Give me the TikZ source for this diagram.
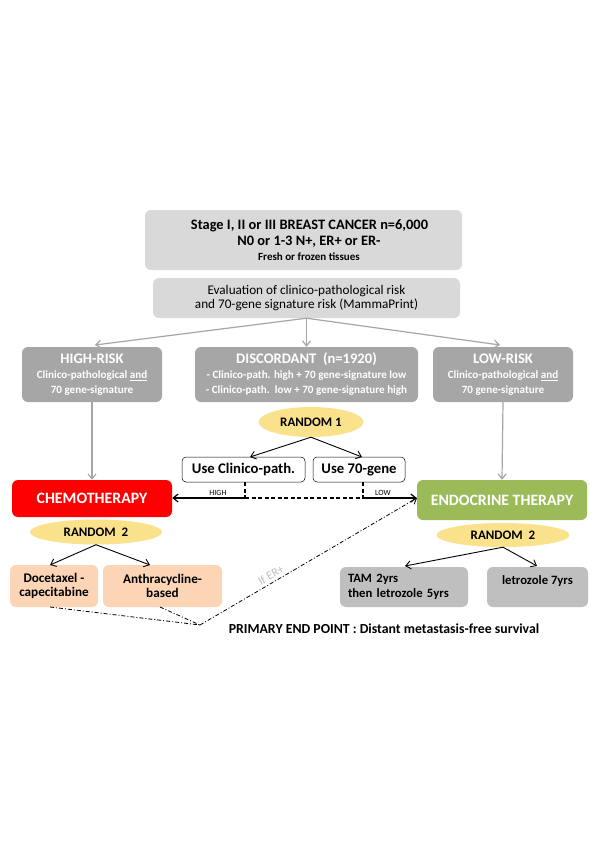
\documentclass[tikz,border=0pt]{standalone}
\usepackage{fontspec}
\setmainfont{Carlito}
\usetikzlibrary{arrows.meta,shapes.geometric}
\definecolor{lgray}{HTML}{D9D9D9}
\definecolor{mgray}{HTML}{A6A6A6}
\definecolor{tgray}{HTML}{BFBFBF}
\definecolor{chemored}{HTML}{FF0000}
\definecolor{endogreen}{HTML}{9BBB59}
\definecolor{ryellow}{HTML}{FAE28C}
\definecolor{peach}{HTML}{FBD5B5}
\definecolor{agray}{HTML}{A6A6A6}
\tikzset{
  box/.style={rectangle, rounded corners=6pt, align=center, inner sep=2pt},
  topbox/.style={box, fill=lgray},
  riskbox/.style={box, fill=mgray, text=white, font=\fontsize{11.1}{15}\selectfont\bfseries},
  rnd/.style={ellipse, fill=ryellow, inner sep=0pt, font=\fontsize{13}{15}\selectfont\bfseries},
  usebox/.style={box, draw=black, line width=0.5pt, fill=white, rounded corners=4pt, font=\fontsize{14.7}{16}\selectfont\bfseries},
  therapy/.style={box, text=white, font=\fontsize{15.8}{18}\selectfont\bfseries},
  armbox/.style={box, font=\fontsize{13.2}{14.5}\selectfont\bfseries},
  garrow/.style={draw=agray, line width=1.2pt, -{Straight Barb[length=5pt,width=8pt]}},
  barrow/.style={draw=black, line width=0.9pt, -{Straight Barb[length=5pt,width=8pt]}},
  dd/.style={draw=black, line width=0.8pt, dash pattern=on 4pt off 2pt on 1pt off 2pt},
}
\begin{document}
\begin{tikzpicture}[x=1pt,y=-1pt]
\useasboundingbox (0,0) rectangle (600,849);
\fill[white] (0,0) rectangle (600,849);

\node[topbox, minimum width=317pt, minimum height=60pt, font=\fontsize{14.4}{16}\selectfont\bfseries] (top) at (303.5,240)
  {\hspace*{12pt}Stage I, II or III BREAST CANCER n=6,000\\
   \hspace*{11pt}N0 or 1-3 N+, ER+ or ER-\\[-1pt]
   \hspace*{11pt}{\fontsize{11}{13}\selectfont Fresh or frozen tissues}};

\node[topbox, minimum width=307pt, minimum height=40pt, font=\fontsize{13.2}{14.5}\selectfont] (eval) at (306.5,298)
  {Evaluation of clinico-pathological risk\\and 70-gene signature risk (MammaPrint)};

\node[riskbox, minimum width=140pt, minimum height=55pt] (high) at (92,374.5)
  {{\fontsize{14.6}{16}\selectfont HIGH-RISK}\\Clinico-pathological \underline{and}\\70 gene-signature};
\node[riskbox, minimum width=223pt, minimum height=55pt] (disc) at (306.5,374.5)
  {{\fontsize{14.6}{16}\selectfont DISCORDANT\ \ (n=1920)}\\- Clinico-path. high + 70 gene-signature low\\- Clinico-path.\ \ low + 70 gene-signature high};
\node[riskbox, minimum width=140pt, minimum height=55pt] (low) at (503,374.5)
  {{\fontsize{14.6}{16}\selectfont LOW-RISK}\\Clinico-pathological \underline{and}\\70 gene-signature};

\draw[garrow] (eval.south) -- (95,345);
\draw[garrow] (eval.south) -- (disc.north);
\draw[garrow] (eval.south) -- (500,345);

\node[rnd, minimum width=105pt, minimum height=30pt] (r1) at (311,422) {RANDOM 1};
\node[usebox, minimum width=123pt, minimum height=25pt] (usec) at (243.5,469.5) {Use Clinico-path.};
\node[usebox, minimum width=92pt, minimum height=25pt] (use70) at (359,469.5) {Use 70-gene};
\draw[barrow] (r1.south) -- (250,457);
\draw[barrow] (r1.south) -- (362,457);

\node[therapy, fill=chemored, minimum width=160pt, minimum height=37pt] (chemo) at (92,498.5) {CHEMOTHERAPY};
\node[therapy, fill=endogreen, minimum width=170pt, minimum height=40pt] (endo) at (502,500) {ENDOCRINE THERAPY};

\draw[garrow] (high.south) -- (chemo.north);
\draw[garrow] (low.south) -- (endo.north);

\coordinate (hx) at (245,498);
\coordinate (lx) at (363,498);
\draw[black, line width=1.2pt, dash pattern=on 4pt off 2.5pt] (245,482) -- (hx);
\draw[black, line width=1.2pt, dash pattern=on 4pt off 2.5pt] (363,482) -- (lx);
\draw[black, line width=1.2pt, dash pattern=on 4pt off 2.5pt] (hx) -- (lx);
\draw[barrow, line width=1.2pt] (hx) -- (chemo.east |- hx);
\draw[barrow, line width=1.2pt] (lx) -- (endo.west |- lx);
\node[font=\fontsize{8}{9}\selectfont, inner sep=0pt] (hl) at (218,493) {HIGH};
\node[font=\fontsize{8}{9}\selectfont, inner sep=0pt] (ll) at (383,493) {LOW};

\node[rnd, minimum width=132pt, minimum height=25pt] (r2l) at (96,532) {RANDOM\ \ 2};
\node[rnd, minimum width=133pt, minimum height=24pt] (r2r) at (503,535) {RANDOM\ \ 2};

\node[armbox, fill=peach, minimum width=88pt, minimum height=42pt] (doc) at (54,586) {Docetaxel -\\capecitabine};
\node[armbox, fill=peach, minimum width=119pt, minimum height=42pt] (anth) at (162.5,586) {Anthracycline-\\based};
\draw[barrow] (r2l.south) -- (50,565);
\draw[barrow] (r2l.south) -- (150,565);

\node[armbox, fill=tgray, minimum width=128pt, minimum height=40pt, text width=112pt, align=left, font=\fontsize{12.7}{14.5}\selectfont\bfseries] (tam) at (404,587) {TAM 2yrs\\then letrozole 5yrs};
\node[armbox, fill=tgray, minimum width=101pt, minimum height=40pt, font=\fontsize{12.7}{14.5}\selectfont\bfseries] (letro) at (537.5,587) {letrozole 7yrs\\~};
\draw[barrow] (r2r.south) -- (405,566);
\draw[barrow] (r2r.south) -- (537,566);

\coordinate (conv) at (200,625);
\draw[dd] (50,607) -- (conv);
\draw[dd] (160,607) -- (conv);
\draw[dd, -{Straight Barb[length=5pt,width=8pt]}] (conv) -- (417,498);
\node[text=tgray, rotate=30.3, font=\fontsize{12}{13}\selectfont, inner sep=0pt] (er) at (271,575) {If ER+};

\node[font=\fontsize{13.8}{15}\selectfont\bfseries, inner sep=0pt, anchor=base] (pep) at (384,633) {PRIMARY END POINT : Distant metastasis-free survival};
\end{tikzpicture}
\end{document}
